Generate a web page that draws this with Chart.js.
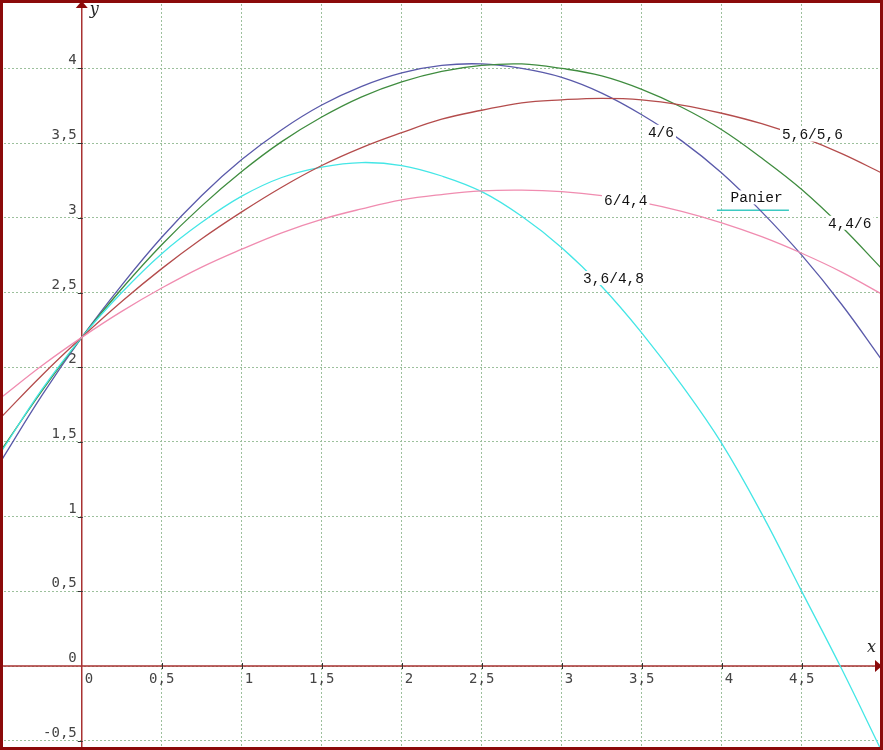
<!DOCTYPE html>
<html>
<head>
<meta charset="utf-8">
<script src="https://cdn.jsdelivr.net/npm/chart.js@4"></script>
<style>
  html, body { margin: 0; padding: 0; background: #fff; }
  canvas { display: block; }
</style>
</head>
<body>
<canvas id="chart" width="883" height="750"></canvas>
<script>
const xValues = [-0.5, -0.25, 0, 0.25, 0.5, 0.75, 1, 1.25, 1.5, 1.75, 2, 2.25, 2.5, 2.75, 3, 3.25, 3.5, 3.75, 4, 4.25, 4.5, 4.75, 5];

// heights (m) for each throw
const throw46 = [1.38, 1.81, 2.20, 2.55, 2.87, 3.15, 3.39, 3.59, 3.755, 3.88, 3.97, 4.02, 4.03, 4.00, 3.94, 3.835, 3.69, 3.515, 3.30, 3.04, 2.75, 2.42, 2.05];
const throw446 = [1.45, 1.84, 2.20, 2.525, 2.82, 3.08, 3.31, 3.51, 3.675, 3.81, 3.91, 3.98, 4.02, 4.03, 4.00, 3.95, 3.86, 3.74, 3.59, 3.40, 3.19, 2.94, 2.66];
const throw5656 = [1.67, 1.945, 2.20, 2.44, 2.66, 2.86, 3.04, 3.205, 3.35, 3.47, 3.57, 3.66, 3.72, 3.77, 3.79, 3.80, 3.79, 3.755, 3.70, 3.63, 3.54, 3.43, 3.30];
const throw644 = [1.80, 2.01, 2.20, 2.374, 2.53, 2.67, 2.79, 2.90, 2.99, 3.06, 3.12, 3.156, 3.18, 3.185, 3.175, 3.148, 3.104, 3.044, 2.967, 2.874, 2.763, 2.637, 2.49];
const throw3648 = [1.44, 1.85, 2.20, 2.50, 2.76, 2.97, 3.145, 3.27, 3.34, 3.37, 3.35, 3.28, 3.175, 3.01, 2.80, 2.54, 2.23, 1.88, 1.49, 1.02, 0.50, -0.02, -0.57];

// basket (panier)
const panierX = [3.97, 4.42];
const panierY = [3.05, 3.05];

// axis ticks
const xTicks = [0, 0.5, 1, 1.5, 2, 2.5, 3, 3.5, 4, 4.5];
const xTickLabels = ['0', '0,5', '1', '1,5', '2', '2,5', '3', '3,5', '4', '4,5'];
const yTicks = [-0.5, 0, 0.5, 1, 1.5, 2, 2.5, 3, 3.5, 4];
const yTickLabels = ['-0,5', '0', '0,5', '1', '1,5', '2', '2,5', '3', '3,5', '4'];

// curve names and where they sit
const curveLabels = [
    { text: '4/6', x: 3.62, y: 3.576 },
    { text: '5,6/5,6', x: 4.567, y: 3.557 },
    { text: 'Panier', x: 4.218, y: 3.137 },
    { text: '6/4,4', x: 3.40, y: 3.116 },
    { text: '4,4/6', x: 4.80, y: 2.967 },
    { text: '3,6/4,8', x: 3.324, y: 2.597 }
];

const toPoints = (xs, ys) => xs.map((x, i) => ({ x: x, y: ys[i] }));

function curve(data, color) {
    return {
        data: toPoints(xValues, data),
        borderColor: color,
        borderWidth: 1.3,
        pointRadius: 0,
        tension: 0.4,
        showLine: true,
        fill: false
    };
}

const axesPlugin = {
    id: 'axes',
    beforeDatasetsDraw(chart) {
        const { ctx, scales: { x, y }, chartArea: a } = chart;
        const x0 = x.getPixelForValue(0);
        const y0 = y.getPixelForValue(0);
        ctx.save();
        ctx.strokeStyle = '#a83232';
        ctx.lineWidth = 1.5;
        ctx.beginPath();
        ctx.moveTo(a.left, y0); ctx.lineTo(a.right, y0);
        ctx.moveTo(x0, a.top); ctx.lineTo(x0, a.bottom);
        ctx.stroke();

        // small tick marks
        ctx.strokeStyle = '#333';
        ctx.lineWidth = 1;
        ctx.beginPath();
        xTicks.forEach(v => {
            if (v === 0) return;
            const px = Math.round(x.getPixelForValue(v)) + 0.5;
            ctx.moveTo(px, y0 - 3); ctx.lineTo(px, y0 + 3);
        });
        yTicks.forEach(v => {
            if (v === 0) return;
            const py = Math.round(y.getPixelForValue(v)) + 0.5;
            ctx.moveTo(x0 - 4, py); ctx.lineTo(x0 + 1, py);
        });
        ctx.stroke();

        // tick labels
        ctx.fillStyle = '#444';
        ctx.font = '14px "DejaVu Sans Mono"';
        ctx.textBaseline = 'top';
        xTicks.forEach((v, i) => {
            const px = x.getPixelForValue(v);
            const txt = xTickLabels[i];
            if (txt.indexOf(',') >= 0) {
                ctx.textAlign = 'center';
                ctx.fillText(txt, px, y0 + 6);
            } else {
                ctx.textAlign = 'left';
                ctx.fillText(txt, px + 3, y0 + 6);
            }
        });
        ctx.textAlign = 'right';
        ctx.textBaseline = 'alphabetic';
        yTicks.forEach((v, i) => {
            ctx.fillText(yTickLabels[i], x0 - 5, y.getPixelForValue(v) - 4);
        });
        ctx.restore();
    },
    afterDatasetsDraw(chart) {
        const { ctx, scales: { x, y }, width, height } = chart;
        const x0 = x.getPixelForValue(0);
        const y0 = y.getPixelForValue(0);
        ctx.save();

        // curve labels on a white background
        ctx.font = '14.5px "Liberation Mono"';
        ctx.textAlign = 'center';
        ctx.textBaseline = 'middle';
        curveLabels.forEach(l => {
            const px = x.getPixelForValue(l.x);
            const py = y.getPixelForValue(l.y);
            const w = ctx.measureText(l.text).width;
            ctx.fillStyle = '#fff';
            ctx.fillRect(px - w / 2 - 2, py - 7, w + 4, 14);
            ctx.fillStyle = '#111';
            ctx.fillText(l.text, px, py + 1);
        });

        // arrows
        ctx.fillStyle = '#8b0a0a';
        ctx.beginPath();
        ctx.moveTo(x0, 1); ctx.lineTo(x0 - 6, 8); ctx.lineTo(x0 + 6, 8);
        ctx.closePath(); ctx.fill();
        ctx.beginPath();
        ctx.moveTo(width - 1, y0); ctx.lineTo(width - 8, y0 - 6); ctx.lineTo(width - 8, y0 + 6);
        ctx.closePath(); ctx.fill();

        // axis names
        ctx.fillStyle = '#222';
        ctx.font = 'italic 16px "DejaVu Serif"';
        ctx.textAlign = 'left';
        ctx.textBaseline = 'alphabetic';
        ctx.fillText('y', x0 + 8, 14);
        ctx.fillText('x', width - 16, y0 - 14);

        // frame
        ctx.strokeStyle = '#8b0a0a';
        ctx.lineWidth = 3;
        ctx.strokeRect(1.5, 1.5, width - 3, height - 3);
        ctx.restore();
    }
};

const gridScale = (min, max, ticks, horizontal) => ({
    type: 'linear',
    min: min,
    max: max,
    afterBuildTicks: s => { s.ticks = ticks.map(v => ({ value: v })); },
    afterFit: s => { if (horizontal) s.height = 0; else s.width = 0; },
    ticks: { display: false },
    grid: { color: '#9cc09c', lineWidth: 1, drawTicks: false },
    border: { display: false, dash: [2, 2] }
});

new Chart(document.getElementById('chart'), {
    type: 'scatter',
    data: {
        datasets: [
            curve(throw644, '#f08cb0'),
            curve(throw5656, '#b44c4c'),
            curve(throw3648, '#44e6e6'),
            curve(throw446, '#3f8c3f'),
            curve(throw46, '#5a5aaa'),
            {
                data: toPoints(panierX, panierY),
                borderColor: '#3ccac2',
                borderWidth: 1.5,
                pointRadius: 0,
                showLine: true,
                fill: false
            }
        ]
    },
    options: {
        responsive: false,
        animation: false,
        events: [],
        layout: { padding: 0, autoPadding: false },
        plugins: {
            legend: { display: false },
            tooltip: { enabled: false }
        },
        scales: {
            x: gridScale(-0.511, 5.008, xTicks, true),
            y: gridScale(-0.562, 4.458, yTicks, false)
        }
    },
    plugins: [axesPlugin]
});
</script>
</body>
</html>
